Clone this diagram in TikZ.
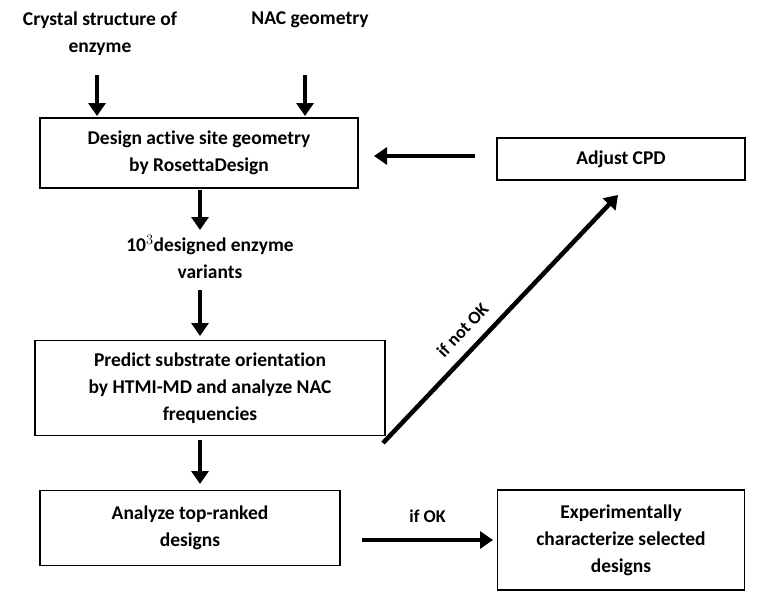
\documentclass[tikz,border=0pt]{standalone}
\usepackage{fontspec}
\setmainfont{Carlito}[Ligatures={NoCommon}]
\usetikzlibrary{positioning,arrows.meta}
\begin{document}
\begin{tikzpicture}[x=1pt,y=-1pt,font=\fontsize{19.5}{27}\selectfont\bfseries]
  \tikzstyle{stepbox} = [draw=black, line width=1.2pt, align=center, inner sep=0pt]
  \tikzstyle{caption} = [align=center, inner sep=1pt]
  \tikzstyle{flow} = [line width=4.5pt, -{Triangle[length=13pt,width=17pt]}]
  \useasboundingbox (0,0) rectangle (776,602);

  \node [caption] (crystal) at (100,34) {Crystal structure of\\enzyme};
  \node [caption] (nac) at (310,20) {NAC geometry};
  \node [stepbox, minimum width=318pt, minimum height=70pt] (design) at (199,153) {Design active site geometry\\by RosettaDesign};
  \node [caption] (variants) at (210,257) {10$^{3}$designed enzyme\\variants};
  \node [stepbox, minimum width=350pt, minimum height=95pt] (predict) at (210,388) {Predict substrate orientation\\by HTMI-MD and analyze NAC\\frequencies};
  \node [stepbox, minimum width=300pt, minimum height=75pt] (analyze) at (190,528) {Analyze top-ranked\\designs};
  \node [stepbox, minimum width=247pt, minimum height=100pt] (exper) at (621,540) {Experimentally\\characterize selected\\designs};
  \node [stepbox, minimum width=248pt, minimum height=42pt] (adjust) at (621,159) {Adjust CPD};
  \coordinate (tip) at (618,195);

  \draw [flow] (97,75) -- (97,116);
  \draw [flow] (305,75) -- (305,116);
  \draw [flow] (200,190) -- (200,230);
  \draw [flow] (200,290) -- (200,336);
  \draw [flow] (200,440) -- (200,484);
  \draw [flow] (362,540) -- (493,540) node [midway, above=12pt, font=\fontsize{18}{22}\selectfont\bfseries] {if OK};
  \draw [flow] (475,156) -- (374,156);
  \draw [flow] (383,443) -- (tip) node [sloped, above=8pt, pos=0.4, font=\fontsize{18}{22}\selectfont\bfseries] {if not OK};
\end{tikzpicture}
\end{document}
